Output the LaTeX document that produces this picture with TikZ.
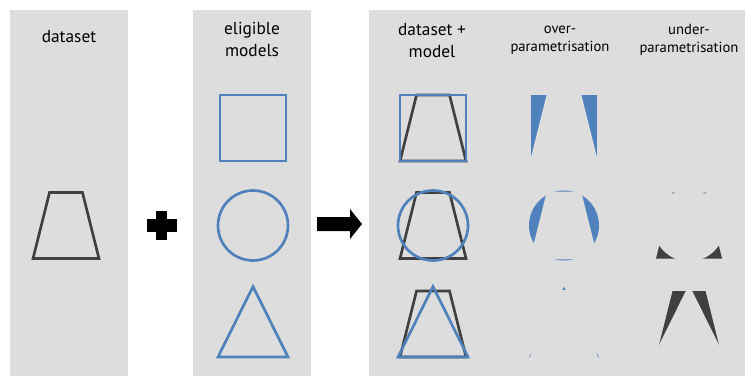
\documentclass[tikz,border=0pt]{standalone}
\usepackage{fontspec}
\setmainfont{PT Sans}
\definecolor{panelgray}{RGB}{221,221,221}
\definecolor{modelblue}{RGB}{79,129,189}
\definecolor{datagray}{RGB}{64,64,64}

% shape paths, in local pixel units
\newcommand{\trappath}{(-16.5,-33) -- (16.5,-33) -- (33,33) -- (-33,33) -- cycle}
\newcommand{\sqpath}{(-33,-33) rectangle (33,33)}
\newcommand{\circpath}{(0,0) circle[radius=35]}
\newcommand{\tripath}{(0,-37.5) -- (35,33) -- (-35,33) -- cycle}

\begin{document}
\begin{tikzpicture}[x=0.75pt, y=-0.75pt,
    panel/.style={fill=panelgray},
    datashape/.style={draw=datagray, line width=2pt},
    modelshape/.style={draw=modelblue, line width=2pt},
    cutout/.style={fill=panelgray, draw=panelgray, line width=1.3pt},
    headbig/.style={align=center, font=\fontsize{13}{16.5}\selectfont},
    headsmall/.style={align=center, font=\fontsize{11}{13.5}\selectfont}]

    \useasboundingbox (0,0) rectangle (745,376);

    % Pannelli
    \fill[panel] (10,10) rectangle (128,376);
    \fill[panel] (193,10) rectangle (311,376);
    \fill[panel] (369,10) rectangle (745,376);

    % Titoli
    \node[headbig] (dataset) at (69,37) {dataset};
    \node[headbig] (eligible) at (252,39) {eligible\\models};
    \node[headbig] (combined) at (432,41) {dataset +\\model};
    \node[headsmall] (over) at (560,40) {over-\\parametrisation};
    \node[headsmall] (under) at (689,40) {under-\\parametrisation};

    % Dataset
    \begin{scope}[shift={(66,225.5)}]
        \draw[datashape] \trappath;
    \end{scope}

    % Piu e freccia
    \fill (156,211) rectangle (167,240);
    \fill (147,219) rectangle (177,232);
    \fill (317,217) -- (350,217) -- (350,209) -- (362,224) -- (350,239) -- (350,231) -- (317,231) -- cycle;

    % Righe: modello, sovrapposizione, differenze
    \foreach \cy/\model in {128/\sqpath, 225.5/\circpath, 324/\tripath}{
        % modello ammesso
        \begin{scope}[shift={(253,\cy)}]
            \draw[modelshape] \model;
        \end{scope}
        % dataset + modello
        \begin{scope}[shift={(433,\cy)}]
            \draw[datashape] \trappath;
            \draw[modelshape] \model;
        \end{scope}
        % modello meno dataset
        \begin{scope}[shift={(564,\cy)}]
            \fill[modelblue] \model;
            \path[cutout] \trappath;
        \end{scope}
        % dataset meno modello
        \begin{scope}[shift={(689,\cy)}]
            \fill[datagray] \trappath;
            \path[cutout] \model;
        \end{scope}
    }
\end{tikzpicture}
\end{document}
